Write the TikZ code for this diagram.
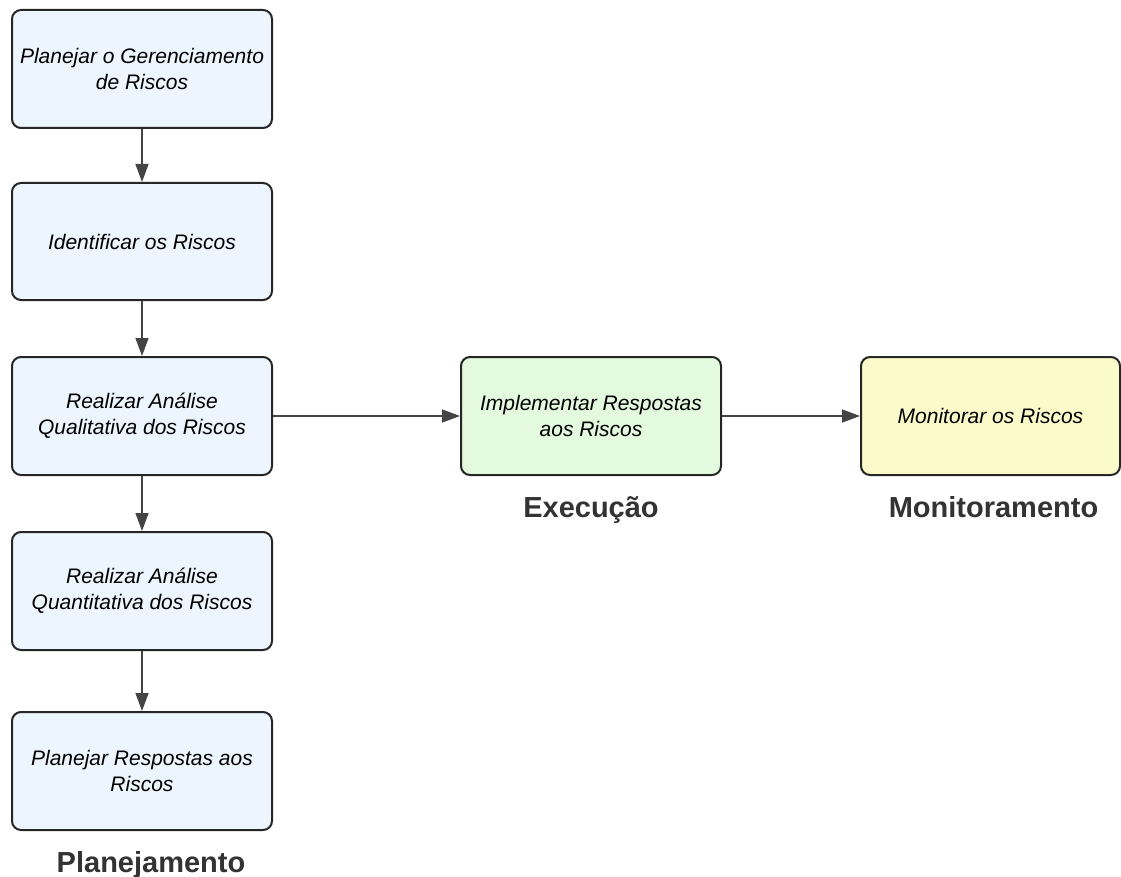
\documentclass[tikz,border=0pt]{standalone}
\usepackage{fontspec}
\setmainfont{Liberation Sans}
\usepackage{xcolor}
\usetikzlibrary{arrows.meta,positioning}

\definecolor{planfill}{RGB}{237,245,255}
\definecolor{execfill}{RGB}{227,250,223}
\definecolor{monfill}{RGB}{252,250,201}
\definecolor{linegray}{RGB}{68,68,68}
\definecolor{lblgray}{RGB}{51,51,51}

\begin{document}
\begin{tikzpicture}[
  x=1pt, y=-1pt,
  node distance=55pt and 187pt,
  box/.style={draw=black!85,line width=2pt,rounded corners=9pt,align=center,
    minimum width=260pt,minimum height=118pt,inner sep=2pt,
    font=\itshape\fontsize{21}{26}\selectfont},
  lbl/.style={font=\bfseries\fontsize{29}{32}\selectfont,text=lblgray,inner sep=0pt},
  arr/.style={-{Triangle[length=18pt,width=13pt]},line width=1.5pt,draw=linegray,color=linegray}
]
\useasboundingbox (0,0) rectangle (1121,877);
% planejamento
\node[box,fill=planfill] (plan) at (142,69) {Planejar o Gerenciamento\\de Riscos};
\node[box,fill=planfill,below=53pt of plan,minimum height=117pt] (ident) {Identificar os Riscos};
\node[box,fill=planfill,below=of ident] (quali) {Realizar Análise\\Qualitativa dos Riscos};
\node[box,fill=planfill,below=of quali] (quanti) {Realizar Análise\\Quantitativa dos Riscos};
\node[box,fill=planfill,below=60pt of quanti] (resp) {Planejar Respostas aos\\Riscos};
% execucao e monitoramento
\node[box,fill=execfill,right=of quali] (impl) {Implementar Respostas\\aos Riscos};
\node[box,fill=monfill,right=138pt of impl,minimum width=259pt] (monit) {Monitorar os Riscos};
% rotulos
\node[lbl,below=20pt of impl] (exec) {Execução};
\node[lbl,below=20pt of monit,xshift=3pt] (mon) {Monitoramento};
\node[lbl,below=20pt of resp,xshift=9pt] (planj) {Planejamento};
% setas
\draw[arr] (plan) -- (ident);
\draw[arr] (ident) -- (quali);
\draw[arr] (quali) -- (quanti);
\draw[arr] (quanti) -- (resp);
\draw[arr] (quali) -- (impl);
\draw[arr] (impl) -- (monit);
\end{tikzpicture}
\end{document}
